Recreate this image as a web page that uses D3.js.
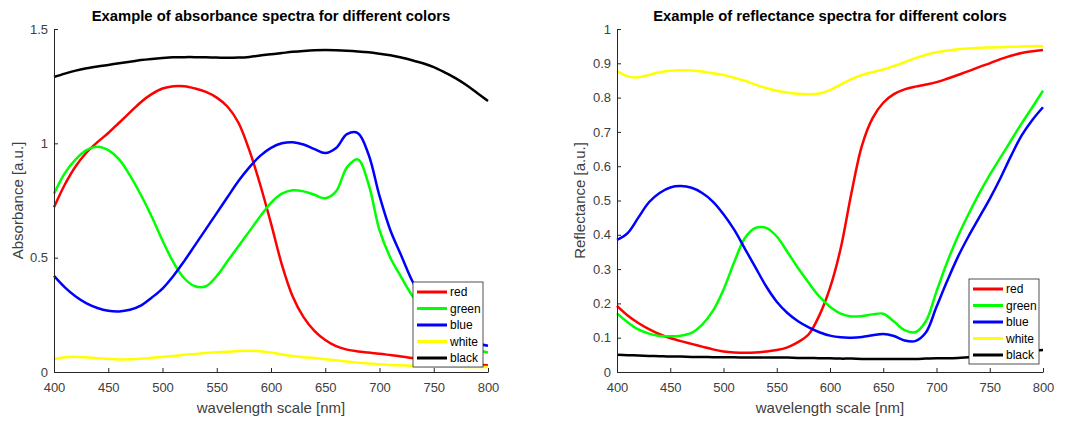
<!DOCTYPE html>
<html>
<head>
<meta charset="utf-8">
<script src="https://cdn.jsdelivr.net/npm/d3@7"></script>
<style>
  body { margin: 0; background: #fff; }
  svg text { font-family: "Liberation Sans", Arial, Helvetica, sans-serif; }
</style>
</head>
<body>
<div id="chart"></div>
<script>
const width = 1072;
const height = 423;

// wavelengths [nm], every 10 nm
const wavelengths = d3.range(400, 801, 10);
const colorNames = ["red", "green", "blue", "white", "black"];
const lineColors = ["#ff0000", "#00ff00", "#0000ff", "#ffff00", "#000000"];

// absorbance spectra
const absRed = [0.72, 0.82, 0.90, 0.96, 1.005, 1.045, 1.09, 1.135, 1.18, 1.215, 1.24, 1.25, 1.25, 1.24, 1.225, 1.20, 1.16, 1.09, 0.97, 0.82, 0.65, 0.47, 0.33, 0.24, 0.18, 0.14, 0.113, 0.098, 0.09, 0.085, 0.08, 0.074, 0.068, 0.061, 0.055, 0.049, 0.044, 0.04, 0.036, 0.032, 0.029];
const absGreen = [0.78, 0.87, 0.93, 0.97, 0.985, 0.97, 0.93, 0.86, 0.775, 0.68, 0.575, 0.48, 0.41, 0.375, 0.375, 0.42, 0.485, 0.55, 0.615, 0.68, 0.74, 0.78, 0.795, 0.79, 0.775, 0.76, 0.79, 0.895, 0.93, 0.82, 0.62, 0.50, 0.415, 0.335, 0.27, 0.21, 0.165, 0.13, 0.108, 0.095, 0.085];
const absBlue = [0.42, 0.37, 0.33, 0.30, 0.28, 0.268, 0.265, 0.272, 0.29, 0.325, 0.365, 0.42, 0.485, 0.555, 0.625, 0.695, 0.765, 0.835, 0.895, 0.945, 0.98, 1.0, 1.005, 0.995, 0.975, 0.958, 0.98, 1.04, 1.045, 0.95, 0.77, 0.62, 0.51, 0.40, 0.315, 0.25, 0.20, 0.165, 0.14, 0.125, 0.115];
const absWhite = [0.057, 0.065, 0.067, 0.064, 0.060, 0.057, 0.055, 0.056, 0.058, 0.062, 0.066, 0.070, 0.075, 0.079, 0.083, 0.086, 0.089, 0.092, 0.093, 0.091, 0.085, 0.077, 0.070, 0.065, 0.061, 0.056, 0.051, 0.046, 0.041, 0.037, 0.034, 0.031, 0.029, 0.027, 0.025, 0.024, 0.023, 0.023, 0.022, 0.022, 0.022];
const absBlack = [1.29, 1.305, 1.318, 1.328, 1.336, 1.343, 1.35, 1.357, 1.364, 1.369, 1.373, 1.376, 1.377, 1.377, 1.376, 1.375, 1.374, 1.375, 1.378, 1.384, 1.39, 1.395, 1.40, 1.404, 1.407, 1.408, 1.407, 1.405, 1.402, 1.398, 1.392, 1.385, 1.375, 1.363, 1.35, 1.333, 1.31, 1.285, 1.255, 1.22, 1.185];

// reflectance spectra
const refRed = [0.193, 0.165, 0.143, 0.125, 0.11, 0.099, 0.09, 0.082, 0.074, 0.066, 0.06, 0.057, 0.056, 0.057, 0.06, 0.064, 0.072, 0.087, 0.11, 0.165, 0.245, 0.36, 0.52, 0.66, 0.74, 0.785, 0.81, 0.824, 0.832, 0.838, 0.845, 0.855, 0.866, 0.877, 0.889, 0.90, 0.912, 0.922, 0.93, 0.935, 0.939];
const refGreen = [0.171, 0.145, 0.124, 0.112, 0.105, 0.104, 0.106, 0.114, 0.138, 0.178, 0.24, 0.32, 0.39, 0.42, 0.42, 0.395, 0.35, 0.303, 0.26, 0.22, 0.19, 0.17, 0.162, 0.163, 0.168, 0.17, 0.147, 0.122, 0.116, 0.148, 0.235, 0.32, 0.395, 0.46, 0.52, 0.575, 0.625, 0.675, 0.725, 0.772, 0.82];
const refBlue = [0.385, 0.405, 0.45, 0.495, 0.522, 0.538, 0.542, 0.537, 0.522, 0.497, 0.46, 0.415, 0.36, 0.305, 0.25, 0.205, 0.172, 0.148, 0.13, 0.116, 0.106, 0.101, 0.10, 0.102, 0.107, 0.111, 0.105, 0.092, 0.09, 0.115, 0.19, 0.265, 0.335, 0.395, 0.45, 0.505, 0.565, 0.63, 0.69, 0.735, 0.772];
const refWhite = [0.878, 0.862, 0.859, 0.866, 0.874, 0.878, 0.88, 0.879, 0.876, 0.871, 0.866, 0.858, 0.849, 0.838, 0.828, 0.82, 0.815, 0.811, 0.81, 0.812, 0.822, 0.838, 0.854, 0.866, 0.874, 0.882, 0.892, 0.903, 0.915, 0.925, 0.932, 0.937, 0.941, 0.943, 0.945, 0.946, 0.947, 0.948, 0.949, 0.95, 0.95];
const refBlack = [0.05, 0.049, 0.048, 0.047, 0.046, 0.045, 0.045, 0.044, 0.044, 0.043, 0.043, 0.043, 0.042, 0.042, 0.042, 0.042, 0.042, 0.041, 0.041, 0.04, 0.04, 0.039, 0.039, 0.038, 0.038, 0.038, 0.038, 0.038, 0.038, 0.039, 0.04, 0.04, 0.041, 0.043, 0.045, 0.048, 0.051, 0.054, 0.057, 0.061, 0.064];

const xTicks = [400, 450, 500, 550, 600, 650, 700, 750, 800];
const absTicks = [0, 0.5, 1, 1.5];
const refTicks = [0, 0.1, 0.2, 0.3, 0.4, 0.5, 0.6, 0.7, 0.8, 0.9, 1];

const svg = d3.select("#chart")
  .append("svg")
  .attr("width", width)
  .attr("height", height);

function drawPanel(opts) {
  const x = d3.scaleLinear().domain([400, 800]).range([opts.left, opts.right]);
  const y = d3.scaleLinear().domain([0, opts.ymax]).range([opts.bottom, opts.top]);
  const g = svg.append("g");

  const line = d3.line()
    .x((d, i) => x(wavelengths[i]))
    .y(d => y(d))
    .curve(d3.curveCatmullRom.alpha(0.5));

  g.selectAll(".curve")
    .data(opts.series)
    .join("path")
    .attr("class", "curve")
    .attr("fill", "none")
    .attr("stroke", (d, i) => lineColors[i])
    .attr("stroke-width", 2.5)
    .attr("stroke-linejoin", "round")
    .attr("d", line);

  // axes, MATLAB style: ticks pointing inward, no box
  const xAxis = g.append("g")
    .attr("transform", `translate(0,${opts.bottom})`)
    .call(d3.axisBottom(x).tickValues(xTicks).tickSizeInner(-4).tickSizeOuter(0).tickPadding(11));
  const yAxis = g.append("g")
    .attr("transform", `translate(${opts.left},0)`)
    .call(d3.axisLeft(y).tickValues(opts.yTicks).tickSizeInner(-4).tickSizeOuter(0).tickPadding(6)
      .tickFormat(d => d3.format("")(+d.toFixed(1))));

  [xAxis, yAxis].forEach(a => {
    a.select(".domain").attr("stroke", "#262626");
    a.selectAll(".tick line").attr("stroke", "#262626");
    a.selectAll(".tick text").attr("fill", "#404040").style("font-size", "13px");
  });

  g.append("text")
    .attr("x", (opts.left + opts.right) / 2)
    .attr("y", 21)
    .attr("text-anchor", "middle")
    .style("font-size", "14.8px")
    .style("font-weight", "bold")
    .attr("fill", "#000")
    .text(opts.title);

  g.append("text")
    .attr("x", (opts.left + opts.right) / 2)
    .attr("y", 413)
    .attr("text-anchor", "middle")
    .style("font-size", "15px")
    .attr("fill", "#404040")
    .text("wavelength scale [nm]");

  g.append("text")
    .attr("transform", `translate(${opts.ylabelX},${(opts.top + opts.bottom) / 2}) rotate(-90)`)
    .attr("text-anchor", "middle")
    .style("font-size", "15px")
    .attr("fill", "#404040")
    .text(opts.ylabel);

  // legend
  const lg = g.append("g").attr("transform", `translate(${opts.legendX},${opts.legendY})`);
  lg.append("rect")
    .attr("width", 70)
    .attr("height", 85)
    .attr("fill", "#fff")
    .attr("stroke", "#262626")
    .attr("stroke-width", 0.8);
  const item = lg.selectAll(".item")
    .data(colorNames)
    .join("g")
    .attr("class", "item")
    .attr("transform", (d, i) => `translate(0,${10 + i * 16.5})`);
  item.append("line")
    .attr("x1", 4).attr("x2", 34)
    .attr("stroke", (d, i) => lineColors[i])
    .attr("stroke-width", 3);
  item.append("text")
    .attr("x", 37)
    .attr("dy", "0.35em")
    .style("font-size", "12px")
    .attr("fill", "#000")
    .text(d => d);
}

drawPanel({
  left: 54, right: 488, top: 29, bottom: 372, ymax: 1.5,
  series: [absRed, absGreen, absBlue, absWhite, absBlack],
  yTicks: absTicks,
  title: "Example of absorbance spectra for different colors",
  ylabel: "Absorbance [a.u.]", ylabelX: 23,
  legendX: 413, legendY: 282
});

drawPanel({
  left: 617, right: 1043, top: 29, bottom: 372, ymax: 1,
  series: [refRed, refGreen, refBlue, refWhite, refBlack],
  yTicks: refTicks,
  title: "Example of reflectance spectra for different colors",
  ylabel: "Reflectance [a.u.]", ylabelX: 585,
  legendX: 969, legendY: 279
});
</script>
</body>
</html>
